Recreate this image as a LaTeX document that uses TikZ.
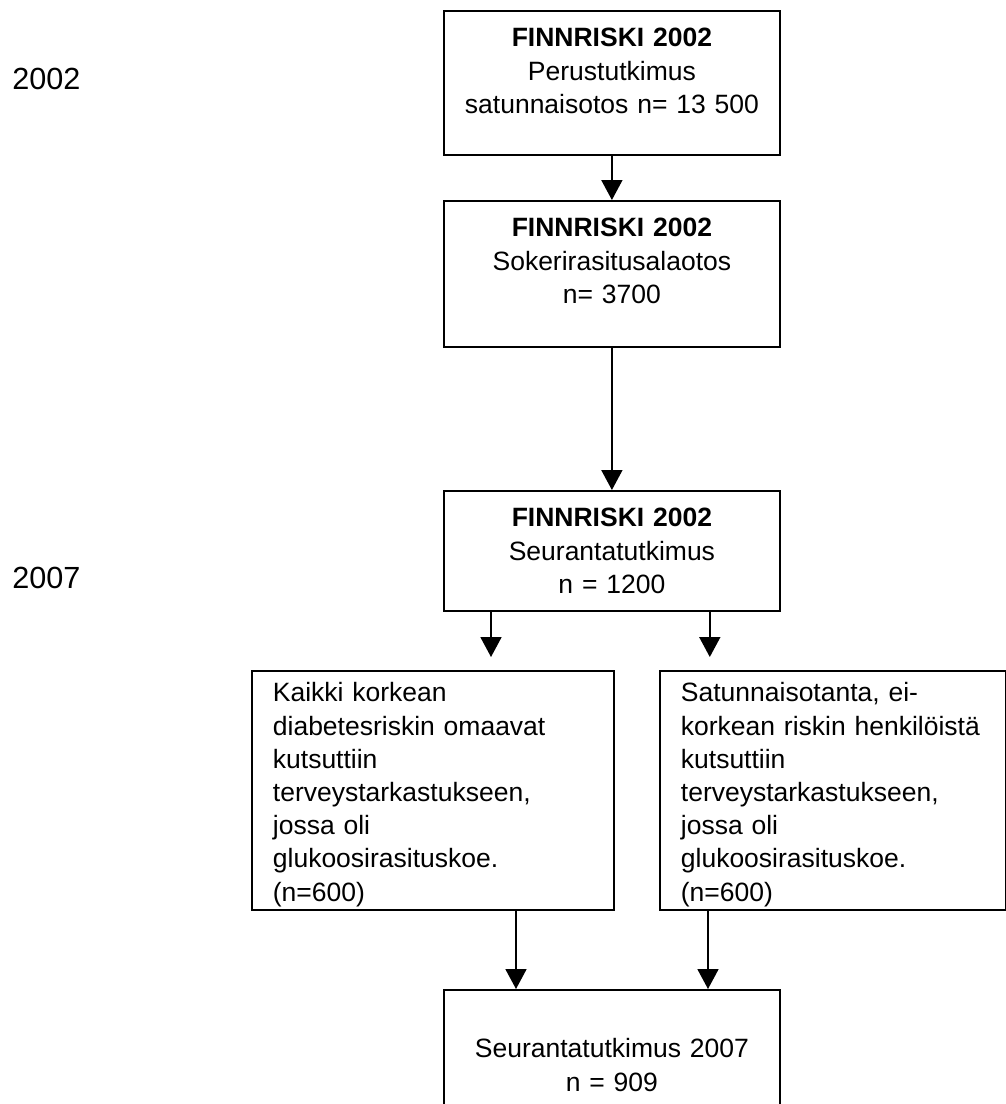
\documentclass[tikz,border=0pt]{standalone}
\usepackage{fontspec}
\setmainfont{Liberation Sans}
\usepackage{tikz}
\usetikzlibrary{arrows.meta,calc}

\tikzset{
	box/.style={draw,line width=0.9pt,inner ysep=0pt,inner xsep=0pt,align=center,text width=168pt,anchor=north west,font=\fontsize{13.25}{16.6}\selectfont},
	sidebox/.style={box,align=left,inner xsep=10.5pt},
	year/.style={anchor=base west,inner sep=0pt,font=\fontsize{15.3}{18}\selectfont},
	arr/.style={line width=0.9pt,-{Triangle[width=10.5pt,length=10pt]}}
}

\begin{document}
\begin{tikzpicture}[x=0.5pt,y=-0.5pt]
	\useasboundingbox (0,0) rectangle (1006,1104);
	\node[year] (v2002) at (12,89) {2002};
	\node[year] (v2007) at (12,588) {2007};
	\node[box,text height=18pt,text depth=54pt] (perus) at (443,10) {\textbf{FINNRISKI 2002}\\Perustutkimus\\satunnaisotos n= 13 500};
	\node[box,text height=18pt,text depth=55pt] (soker) at (443,200) {\textbf{FINNRISKI 2002}\\Sokerirasitusalaotos\\n= 3700};
	\node[box,text height=18pt,text depth=42pt] (seur) at (443,490) {\textbf{FINNRISKI 2002}\\Seurantatutkimus\\n = 1200};
	\node[sidebox,text width=160pt,text height=15.5pt,text depth=104pt] (kaikki) at (251,670) {Kaikki korkean\\diabetesriskin omaavat\\kutsuttiin\\terveystarkastukseen,\\jossa oli\\glukoosirasituskoe.\\(n=600)};
	\node[sidebox,text width=152pt,text height=15.5pt,text depth=104pt] (satun) at (659,670) {Satunnaisotanta, ei-\\korkean riskin henkilöistä\\kutsuttiin\\terveystarkastukseen,\\jossa oli\\glukoosirasituskoe.\\(n=600)};
	\node[box,text height=34pt,text depth=29pt] (loppu) at (443,989) {Seurantatutkimus 2007\\n = 909};
	\draw[arr] (perus) -- (soker);
	\draw[arr] (soker) -- (seur);
	\draw[arr,shorten >=6.5pt] ([xshift=24pt]seur.south west) -- ([xshift=24pt]seur.south west |- kaikki.north);
	\draw[arr,shorten >=6.5pt] ([xshift=-35.5pt]seur.south east) -- ([xshift=-35.5pt]seur.south east |- satun.north);
	\draw[arr] ([xshift=36.5pt]loppu.north west |- kaikki.south) -- ([xshift=36.5pt]loppu.north west);
	\draw[arr] ([xshift=132.5pt]loppu.north west |- satun.south) -- ([xshift=132.5pt]loppu.north west);
\end{tikzpicture}
\end{document}
